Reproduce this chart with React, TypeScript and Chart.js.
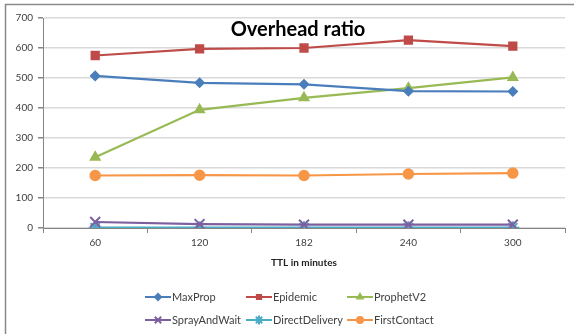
import React, { useEffect, useRef } from "react";
import { Chart, registerables } from "chart.js";
import { drawPoint } from "chart.js/helpers";

Chart.register(...registerables);

const categories = ["60", "120", "182", "240", "300"];
const maxProp = [507, 484, 479, 456, 455];
const epidemic = [575, 597, 600, 626, 606];
const prophetV2 = [236, 394, 434, 466, 502];
const sprayAndWait = [20, 13, 11, 11, 11];
const directDelivery = [1, 1, 1, 1, 1];
const firstContact = [175, 176, 175, 180, 183];

const seriesNames = ["MaxProp", "Epidemic", "ProphetV2", "SprayAndWait", "DirectDelivery", "FirstContact"];
const seriesData = [maxProp, epidemic, prophetV2, sprayAndWait, directDelivery, firstContact];
const seriesColors = ["#4a7ebb", "#be4b48", "#98b954", "#7d5fa0", "#4bacc6", "#f79646"];
const seriesStyles = ["rectRot", "rect", "triangle", "crossRot", "star", "circle"];
const seriesRadius = [4.5, 5.5, 5.5, 7, 6.5, 5];
const seriesPointBorder = [1.5, 1.5, 1.5, 2, 2, 1.5];
const legendRadius = [3, 3, 3, 4.5, 4.5, 3];

const chartTitle = "Overhead ratio";
const xTitle = "TTL in minutes";
const FONT = "Lato, 'Open Sans', sans-serif";

const framePlugin = {
  id: "frame",
  beforeDraw(chart: any) {
    const ctx = chart.ctx;
    ctx.save();
    ctx.fillStyle = "#ffffff";
    ctx.fillRect(0, 0, chart.width, chart.height);
    ctx.strokeStyle = "#8a8a8a";
    ctx.lineWidth = 1.5;
    ctx.beginPath();
    ctx.moveTo(5.5, chart.height);
    ctx.lineTo(5.5, 4.5);
    ctx.lineTo(chart.width, 4.5);
    ctx.stroke();
    ctx.restore();
  },
  afterDraw(chart: any) {
    const ctx = chart.ctx;
    const area = chart.chartArea;
    ctx.save();
    ctx.fillStyle = "#000000";
    ctx.font = `bold 20px ${FONT}`;
    ctx.textAlign = "center";
    ctx.textBaseline = "middle";
    ctx.fillText(chartTitle, 298, 30);
    ctx.font = `bold 10px ${FONT}`;
    ctx.fillStyle = "#222222";
    ctx.fillText(xTitle, (area.left + area.right) / 2, area.bottom + 35);
    ctx.font = `11px ${FONT}`;
    ctx.textAlign = "left";
    chart.data.datasets.forEach((ds: any, i: number) => {
      const col = i % 3;
      const row = Math.floor(i / 3);
      const x0 = 145 + col * 101;
      const y0 = 297 + row * 23;
      ctx.strokeStyle = ds.borderColor;
      ctx.lineWidth = 2;
      ctx.beginPath();
      ctx.moveTo(x0, y0);
      ctx.lineTo(x0 + 26, y0);
      ctx.stroke();
      ctx.fillStyle = ds.borderColor;
      ctx.strokeStyle = ds.borderColor;
      drawPoint(ctx, { pointStyle: ds.pointStyle, rotation: 0, radius: legendRadius[i], borderWidth: 1.2 } as any, x0 + 13, y0);
      ctx.fillStyle = "#404040";
      ctx.fillText(ds.label, x0 + 27, y0);
    });
    ctx.restore();
  },
};

export default function App() {
  const ref = useRef<HTMLCanvasElement | null>(null);
  useEffect(() => {
    if (!ref.current) return;
    const chart = new Chart(ref.current, {
      type: "line",
      data: {
        labels: categories,
        datasets: seriesNames.map((name, i) => ({
          label: name,
          data: seriesData[i],
          borderColor: seriesColors[i],
          backgroundColor: seriesColors[i],
          pointBackgroundColor: seriesColors[i],
          pointBorderColor: seriesColors[i],
          pointStyle: seriesStyles[i] as any,
          pointRadius: seriesRadius[i],
          pointBorderWidth: seriesPointBorder[i],
          borderWidth: 2.2,
          tension: 0,
          fill: false,
        })),
      },
      options: {
        responsive: false,
        animation: false,
        devicePixelRatio: 1,
        layout: { padding: { left: 0, right: 7, top: 18, bottom: 0 } },
        plugins: {
          legend: { display: false },
          title: { display: false },
          tooltip: { enabled: false },
        },
        scales: {
          x: {
            type: "category",
            offset: true,
            grid: {
              display: true,
              drawOnChartArea: false,
              drawTicks: true,
              tickLength: 5,
              tickColor: "#868686",
              offset: true,
            },
            border: { color: "#868686", width: 1 },
            ticks: { padding: 4, font: { size: 10, family: FONT }, color: "#404040" },
            afterFit: (s: any) => {
              s.height = 106;
            },
          },
          y: {
            min: 0,
            max: 700,
            ticks: { stepSize: 100, padding: 5, font: { size: 10, family: FONT }, color: "#404040" },
            grid: { color: "#d9d9d9", lineWidth: 1.5, tickLength: 5, tickColor: "#868686" },
            border: { color: "#868686", width: 1 },
            afterFit: (s: any) => {
              s.width = 43;
            },
          },
        },
      },
      plugins: [framePlugin],
    });
    return () => chart.destroy();
  }, []);
  return (
    <div style={{ position: "fixed", left: 0, top: 0, width: 574, height: 334 }}>
      <canvas ref={ref} width={574} height={334} style={{ display: "block" }} />
    </div>
  );
}
